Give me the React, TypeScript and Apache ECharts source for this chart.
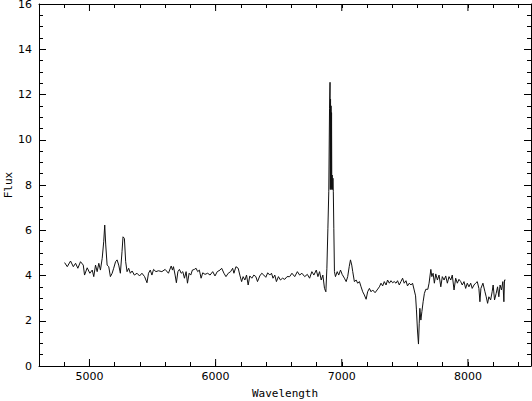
import React, { useEffect, useRef } from "react";
import * as echarts from "echarts";

const wavelength = [
  4803, 4824, 4850, 4872, 4890, 4908, 4929, 4951, 4961, 4982, 5003, 5022, 5034, 5048, 5061, 5074, 5087, 5101, 5113, 5121,
  5129, 5140, 5153, 5166, 5180, 5192, 5207, 5219, 5232, 5245, 5258, 5266, 5277, 5287, 5298, 5311, 5324, 5338, 5356, 5377,
  5397, 5416, 5437, 5456, 5468, 5482, 5495, 5508, 5527, 5547, 5574, 5600, 5626, 5648, 5658, 5666, 5679, 5689, 5701, 5713,
  5727, 5740, 5753, 5766, 5777, 5790, 5803, 5816, 5832, 5845, 5858, 5871, 5885, 5898, 5916, 5937, 5956, 5977, 5995, 6013,
  6035, 6048, 6066, 6082, 6100, 6119, 6135, 6145, 6161, 6179, 6192, 6206, 6218, 6232, 6245, 6258, 6271, 6287, 6303, 6319,
  6332, 6350, 6366, 6382, 6398, 6413, 6429, 6443, 6455, 6469, 6482, 6498, 6514, 6530, 6548, 6566, 6587, 6605, 6627, 6648,
  6666, 6684, 6706, 6727, 6745, 6763, 6779, 6798, 6811, 6824, 6837, 6850, 6863, 6874, 6882, 6890, 6897, 6903, 6907, 6909,
  6911, 6913, 6915, 6917, 6919, 6921, 6924, 6927, 6930, 6933, 6937, 6942, 6950, 6964, 6976, 6990, 7003, 7021, 7035, 7047,
  7059, 7069, 7079, 7087, 7100, 7114, 7126, 7140, 7153, 7166, 7179, 7193, 7205, 7219, 7232, 7245, 7264, 7280, 7298, 7311,
  7324, 7337, 7351, 7363, 7377, 7390, 7403, 7416, 7430, 7442, 7456, 7469, 7482, 7495, 7509, 7521, 7535, 7548, 7561, 7574,
  7585, 7592, 7600, 7608, 7614, 7619, 7627, 7635, 7645, 7655, 7666, 7682, 7692, 7706, 7714, 7724, 7734, 7745, 7758, 7771,
  7785, 7797, 7811, 7824, 7837, 7850, 7864, 7876, 7890, 7903, 7916, 7929, 7943, 7955, 7969, 7982, 7995, 8008, 8022, 8034,
  8048, 8061, 8074, 8087, 8095, 8103, 8119, 8135, 8145, 8156, 8166, 8180, 8192, 8200, 8211, 8224, 8235, 8245, 8255, 8266,
  8277, 8285, 8290, 8298,
];

const flux = [
  4.57, 4.39, 4.64, 4.39, 4.54, 4.32, 4.61, 4.46, 4.02, 4.34, 4.1, 4.24, 3.95, 4.46, 4.17, 4.54, 4.24, 4.76, 5.49, 6.23,
  5.35, 4.46, 4.39, 3.95, 4.1, 4.32, 4.61, 4.69, 4.46, 4.1, 5.05, 5.71, 5.64, 4.61, 4.17, 4.32, 4.1, 4.2, 4.02, 4.1,
  3.98, 4.1, 3.95, 3.68, 4.1, 4.24, 4.02, 4.27, 4.17, 4.21, 4.17, 4.27, 4.1, 4.42, 4.24, 4.39, 4.02, 3.68, 4.17, 4.27,
  4.1, 4.17, 3.88, 4.17, 3.66, 4.1, 4.02, 4.24, 4.27, 4.32, 4.17, 4.24, 3.88, 4.12, 4.05, 4.1, 4.02, 4.17, 3.98, 4.17,
  4.24, 4.32, 4.1, 3.95, 4.1, 4.17, 4.32, 4.1, 4.39, 4.32, 4.02, 3.73, 3.95, 3.8, 4.02, 3.58, 3.98, 3.88, 4.02, 3.95,
  3.73, 3.98, 4.1, 4.02, 3.92, 4.12, 4.02, 4.1, 3.88, 4.02, 3.73, 3.95, 3.8, 3.88, 3.83, 3.95, 3.95, 4.1, 3.95, 4.17,
  4.02, 4.1, 3.95, 4.05, 3.88, 4.17, 4.02, 4.24, 3.95, 4.17, 3.8, 4.02, 3.43, 3.28, 4.32, 6.09, 7.7, 11.39, 12.54, 7.8,
  11.8, 7.9, 11.5, 7.8, 11.2, 7.9, 8.44, 7.8, 8.3, 7.7, 6.09, 4.17, 3.95, 4.17, 4.02, 4.24, 4.05, 3.88, 3.73, 3.95,
  4.39, 4.69, 4.46, 4.17, 3.73, 3.8, 3.66, 3.73, 3.5, 3.28, 3.14, 2.95, 3.28, 3.43, 3.28, 3.36, 3.24, 3.36, 3.5, 3.66,
  3.54, 3.73, 3.58, 3.8, 3.66, 3.77, 3.68, 3.73, 3.66, 3.77, 3.58, 3.73, 3.88, 3.66, 3.77, 3.54, 3.66, 3.58, 3.66, 3.36,
  3.1, 2.48, 1.59, 0.97, 1.89, 2.55, 2.03, 2.4, 2.84, 3.21, 3.39, 3.39, 3.66, 4.27, 3.95, 4.1, 3.66, 4.07, 3.8, 4.02,
  3.5, 3.95, 3.8, 3.98, 3.66, 3.95, 3.8, 4.02, 3.36, 3.88, 3.66, 3.83, 3.73, 3.58, 3.73, 3.43, 3.66, 3.5, 3.66, 3.43,
  3.58, 3.66, 3.73, 3.43, 2.84, 3.43, 3.66, 3.28, 3.06, 2.77, 3.06, 2.92, 3.28, 3.58, 2.92, 3.21, 3.5, 3.06, 3.58, 3.36,
  3.73, 2.84, 3.8, 3.8,
];

// Tick label values (major ticks)
const xMajorTicks = [5000, 6000, 7000, 8000];

const X_MIN = 4600;
const X_MAX = 8500;
const X_MINOR_STEP = 200;
const X_MAJOR_STEP = 1000;
const Y_MIN = 0;
const Y_MAX = 16;
const Y_MINOR_STEP = 0.5;
const Y_MAJOR_STEP = 2;

export default function App() {
  const ref = useRef<HTMLDivElement>(null);

  useEffect(() => {
    if (!ref.current) return;
    const chart = echarts.init(ref.current, undefined, { renderer: "svg" });
    const lineStyle = { color: "#000", width: 1 };
    const labelFont = { fontFamily: "DejaVu Sans", fontSize: 11, color: "#000" };
    const nameFont = { fontFamily: "DejaVu Sans Mono", fontSize: 11, color: "#000" };

    const xAxisBase = (position: string, showLine: boolean) => ({
      type: "value",
      position,
      min: X_MIN,
      max: X_MAX,
      interval: X_MINOR_STEP,
      axisLine: { show: showLine, onZero: false, lineStyle },
      axisTick: { show: true, inside: true, length: 4, lineStyle },
      axisLabel: { show: false },
      splitLine: { show: false },
    });
    const yAxisBase = (position: string, step: number, len: number, showLine: boolean) => ({
      type: "value",
      position,
      min: Y_MIN,
      max: Y_MAX,
      interval: step,
      axisLine: { show: showLine, onZero: false, lineStyle },
      axisTick: { show: true, inside: true, length: len, lineStyle },
      axisLabel: { show: false },
      splitLine: { show: false },
    });

    const data = wavelength.map((w, i) => [w, flux[i]]);

    chart.setOption({
      animation: false,
      grid: { left: 39, right: 1, top: 4, bottom: 35, containLabel: false, outerBoundsMode: "none" },
      xAxis: [
        {
          ...xAxisBase("bottom", true),
          axisLabel: {
            show: true,
            margin: 5,
            formatter: (v: number) => (v % X_MAJOR_STEP === 0 ? String(v) : ""),
            ...labelFont,
          },
          name: "Wavelength",
          nameLocation: "middle",
          nameGap: 22,
          nameMoveOverlap: false,
          nameTextStyle: nameFont,
        },
        xAxisBase("top", true),
      ],
      yAxis: [
        {
          ...yAxisBase("left", Y_MINOR_STEP, 4, true),
          axisLabel: {
            show: true,
            margin: 7,
            formatter: (v: number) => (v % Y_MAJOR_STEP === 0 ? String(v) : ""),
            ...labelFont,
            lineHeight: 8,
          },
          name: "Flux",
          nameLocation: "middle",
          nameGap: 25,
          nameMoveOverlap: false,
          nameTextStyle: nameFont,
        },
        yAxisBase("left", Y_MAJOR_STEP, 7, false),
        yAxisBase("right", Y_MINOR_STEP, 4, true),
        yAxisBase("right", Y_MAJOR_STEP, 7, false),
      ],
      series: [
        {
          type: "line",
          xAxisIndex: 0,
          yAxisIndex: 0,
          data,
          showSymbol: false,
          symbol: "none",
          lineStyle: { color: "#111", width: 1 },
          z: 3,
        },
        {
          // longer major ticks on bottom and top x axes, positioned via the axis scale
          type: "custom",
          xAxisIndex: 0,
          yAxisIndex: 0,
          silent: true,
          data: xMajorTicks.map((v) => [v]),
          renderItem: (params: any, api: any) => {
            const v = api.value(0);
            const bottom = api.coord([v, Y_MIN]);
            const top = api.coord([v, Y_MAX]);
            const len = 7;
            return {
              type: "group",
              children: [
                {
                  type: "line",
                  shape: { x1: bottom[0], y1: bottom[1], x2: bottom[0], y2: bottom[1] - len },
                  style: { stroke: "#000", lineWidth: 1 },
                },
                {
                  type: "line",
                  shape: { x1: top[0], y1: top[1], x2: top[0], y2: top[1] + len },
                  style: { stroke: "#000", lineWidth: 1 },
                },
              ],
            };
          },
          z: 2,
        },
      ],
    });

    return () => chart.dispose();
  }, []);

  return (
    <div
      ref={ref}
      style={{ position: "fixed", left: 0, top: 0, width: 532, height: 401, background: "#fff" }}
    />
  );
}
